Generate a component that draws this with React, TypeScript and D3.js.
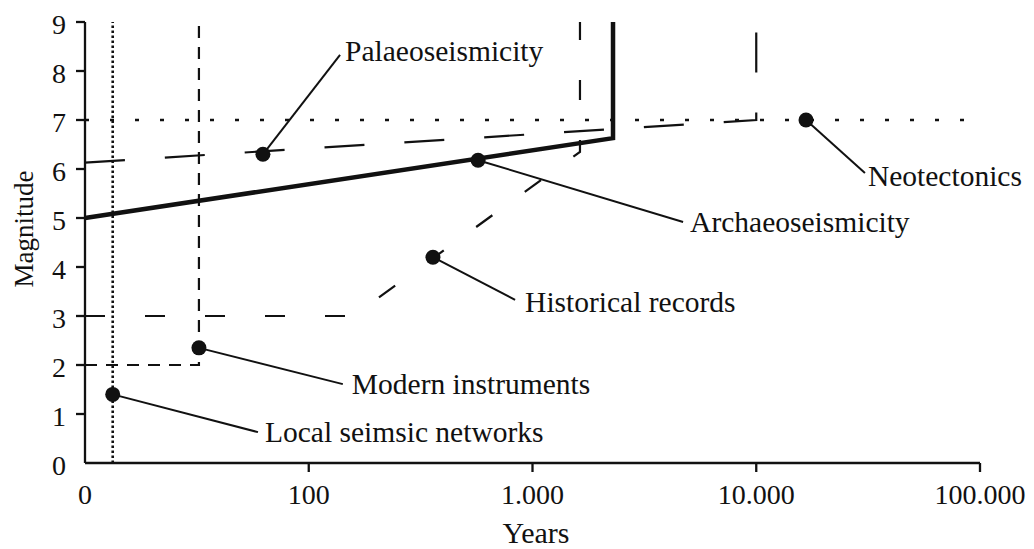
import React from 'react'
import * as d3 from 'd3'

const xTicks = [10, 100, 1000, 10000, 100000]
const xTickLabels = ['0', '100', '1.000', '10.000', '100.000']
const yTicks = [0, 1, 2, 3, 4, 5, 6, 7, 8, 9]

// limits of each method: [years, magnitude]
const localNetworks = [[13.3, 0], [13.3, 9]]
const modernInstruments = [[10, 2], [32.3, 2], [32.3, 9]]
const historicalRecords = [[10, 3], [158, 3], [1630, 6.35], [1630, 9]]
const archaeoseismicity = [[10, 5], [2290, 6.63], [2290, 9]]
const palaeoseismicity = [[10, 6.13], [10000, 7], [10000, 9]]
const neotectonics = [[10, 7], [100000, 7]]

const labelNames = ['Local seimsic networks', 'Modern instruments', 'Historical records',
    'Archaeoseismicity', 'Palaeoseismicity', 'Neotectonics']
const dotYears = [13.3, 32.3, 359, 571, 62.4, 16690]
const dotMagnitudes = [1.4, 2.35, 4.2, 6.18, 6.3, 7.0]
const leaderYears = [59.3, 142, 836, 4710, 138, 30600]
const leaderMagnitudes = [0.63, 1.61, 3.33, 4.92, 8.33, 5.92]

const labelOffsets = [[7, 10], [9, 10], [10, 12], [7, 10], [5, 6], [3, 13]]

const font = '"Liberation Serif", "Times New Roman", serif'

export default function App() {
    const width = 1034
    const height = 549

    const x = d3.scaleLog().domain([10, 100000]).range([85, 980])
    const y = d3.scaleLinear().domain([0, 9]).range([463, 22])

    const line = d3.line().x(d => x(d[0])).y(d => y(d[1]))

    const series = [
        { data: localNetworks, dash: '2.5 2.5', w: 2.6 },
        { data: modernInstruments, dash: '12 9', w: 2.2 },
        { data: historicalRecords, dash: '20 40', w: 2.2 },
        { data: archaeoseismicity, dash: null, w: 4.5 },
        { data: palaeoseismicity, dash: '40 40', w: 2.2 },
        { data: neotectonics, dash: '4 21', w: 2.4 },
    ]

    return (
        <svg width={width} height={height} style={{ position: 'absolute', left: 0, top: 0, background: '#fff' }}
            fontFamily={font}>
            {/* axes */}
            <line x1={x(10)} x2={x(100000)} y1={y(0)} y2={y(0)} stroke="#111" strokeWidth={2.3} />
            <line x1={x(10)} x2={x(10)} y1={y(0)} y2={y(9)} stroke="#111" strokeWidth={2.3} />
            {xTicks.map((t, i) => (
                <g key={'x' + t}>
                    {i > 0 && <line x1={x(t)} x2={x(t)} y1={y(0)} y2={y(0) + 9} stroke="#111" strokeWidth={2.3} />}
                    <text x={x(t)} y={504} textAnchor="middle" fontSize={28} fill="#111">{xTickLabels[i]}</text>
                </g>
            ))}
            {yTicks.map(t => (
                <g key={'y' + t}>
                    {t > 0 && <line x1={x(10) - 9} x2={x(10)} y1={y(t)} y2={y(t)} stroke="#111" strokeWidth={2.3} />}
                    <text x={66} y={y(t)} dy={12} textAnchor="end" fontSize={28} fill="#111">{t}</text>
                </g>
            ))}
            <text x={536} y={543} textAnchor="middle" fontSize={30} fill="#111">Years</text>
            <text transform="translate(33, 229) rotate(-90)" textAnchor="middle" fontSize={27} fill="#111">Magnitude</text>

            {series.map((s, i) => (
                <path key={'s' + i} d={line(s.data)} fill="none" stroke="#111" strokeWidth={s.w}
                    strokeDasharray={s.dash || undefined} strokeLinejoin="miter" />
            ))}

            {labelNames.map((name, i) => {
                const lx = x(leaderYears[i])
                const ly = y(leaderMagnitudes[i])
                return (
                    <g key={name}>
                        <line x1={x(dotYears[i])} y1={y(dotMagnitudes[i])} x2={lx} y2={ly} stroke="#111" strokeWidth={2} />
                        <circle cx={x(dotYears[i])} cy={y(dotMagnitudes[i])} r={7.5} fill="#111" />
                        <text x={lx + labelOffsets[i][0]} y={ly + labelOffsets[i][1]} fontSize={29.5} fill="#111">{name}</text>
                    </g>
                )
            })}
        </svg>
    )
}
